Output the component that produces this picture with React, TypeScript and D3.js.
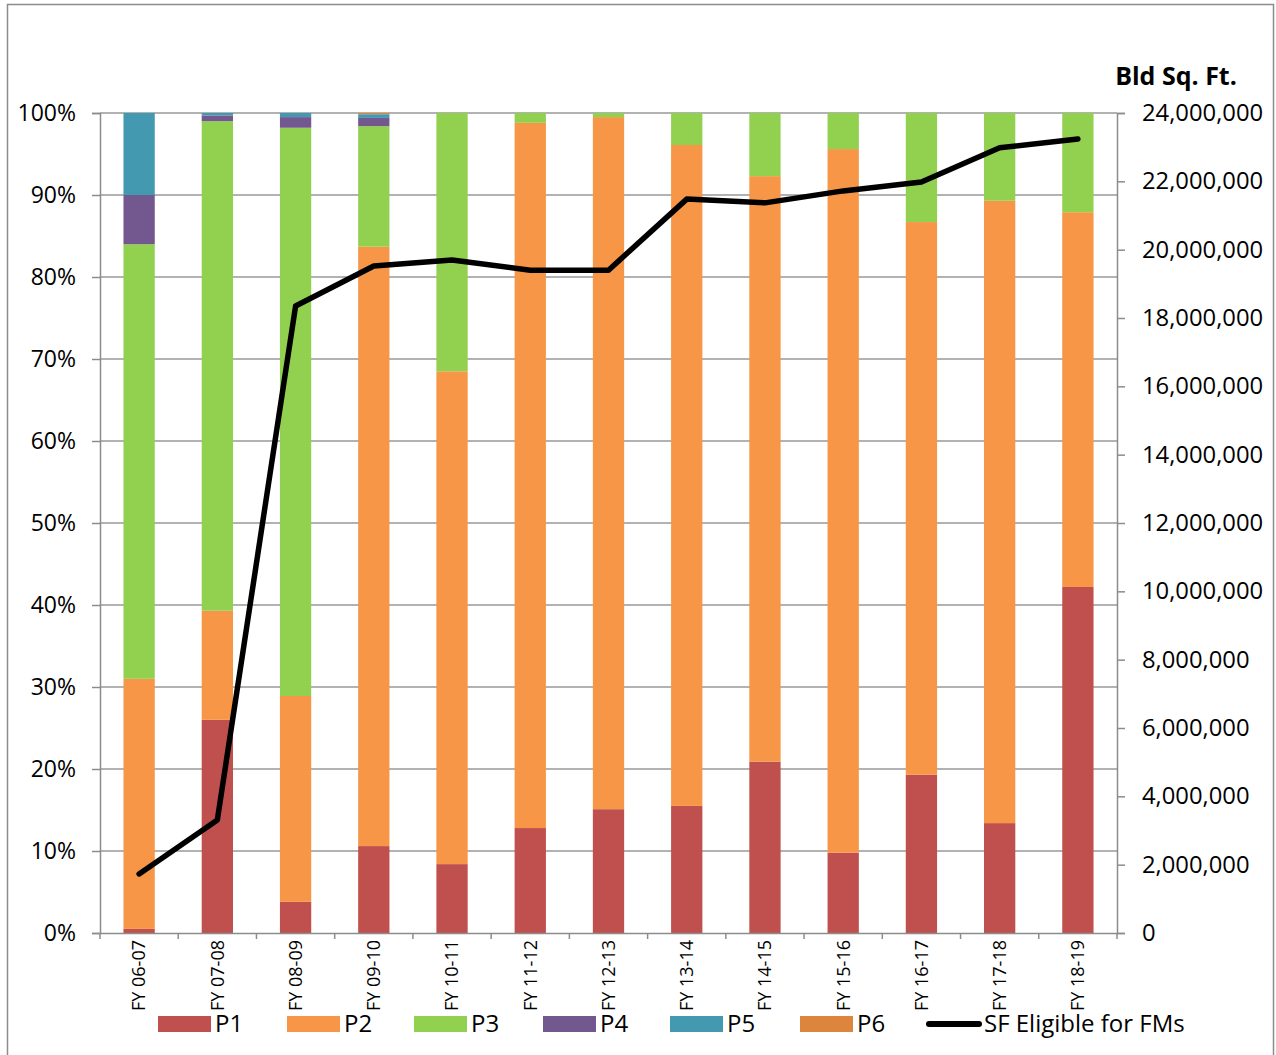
import React, { useEffect, useRef } from 'react';
import * as d3 from 'd3';

const categories = [
  'FY 06-07', 'FY 07-08', 'FY 08-09', 'FY 09-10', 'FY 10-11', 'FY 11-12', 'FY 12-13',
  'FY 13-14', 'FY 14-15', 'FY 15-16', 'FY 16-17', 'FY 17-18', 'FY 18-19',
];

// share of square footage by priority (%)
const p1 = [0.5, 26, 3.8, 10.6, 8.4, 12.8, 15.1, 15.5, 20.9, 9.8, 19.3, 13.4, 42.2];
const p2 = [30.5, 13.3, 25.1, 73.1, 60.1, 86.0, 84.4, 80.6, 71.4, 85.8, 67.4, 75.9, 45.7];
const p3 = [53, 59.7, 69.3, 14.7, 31.5, 1.2, 0.5, 3.9, 7.7, 4.4, 13.3, 10.7, 12.1];
const p4 = [6, 0.7, 1.3, 1.0, 0, 0, 0, 0, 0, 0, 0, 0, 0];
const p5 = [10, 0.3, 0.5, 0.45, 0, 0, 0, 0, 0, 0, 0, 0, 0];
const p6 = [0, 0, 0, 0.15, 0, 0, 0, 0, 0, 0, 0, 0, 0];

// SF Eligible for FMs
const sqft = [
  1730000, 3310000, 18350000, 19520000, 19700000, 19400000, 19400000,
  21480000, 21370000, 21720000, 21980000, 22980000, 23240000,
];

const pctTicks = [0, 10, 20, 30, 40, 50, 60, 70, 80, 90, 100];
const sqftTicks = [0, 2e6, 4e6, 6e6, 8e6, 10e6, 12e6, 14e6, 16e6, 18e6, 20e6, 22e6, 24e6];

const seriesKeys = ['P1', 'P2', 'P3', 'P4', 'P5', 'P6'];
const seriesValues = [p1, p2, p3, p4, p5, p6];
const colors = ['#C0504D', '#F79646', '#92D050', '#72588F', '#4299B0', '#DD843D'];

const font = '"Open Sans", "Noto Sans", sans-serif';

const App = () => {
  const svgRef = useRef<SVGSVGElement>(null);

  useEffect(() => {
    document.body.style.margin = '0';
    const svg = d3.select(svgRef.current);
    svg.selectAll('*').remove();

    const width = 1276;
    const height = 1055;
    const margin = { top: 113, right: 159, bottom: 122, left: 100 };

    const table = categories.map((c, i) => {
      const row: any = { cat: c };
      seriesKeys.forEach((k, j) => (row[k] = seriesValues[j][i]));
      return row;
    });
    const stacked = d3.stack().keys(seriesKeys)(table);

    const x = d3.scaleBand()
      .domain(categories)
      .range([margin.left, width - margin.right])
      .paddingInner(0.6)
      .paddingOuter(0.3);
    const band = d3.scaleBand().domain(categories).range([margin.left, width - margin.right]);
    const y = d3.scaleLinear().domain([0, 100]).range([height - margin.bottom, margin.top]);
    const y2 = d3.scaleLinear().domain([0, 24e6]).range([height - margin.bottom, margin.top]);

    // Outer frame
    svg.append('rect')
      .attr('x', 7.5).attr('y', 4.5)
      .attr('width', 1266).attr('height', 1070)
      .attr('fill', 'white').attr('stroke', '#8c8c8c').attr('stroke-width', 1.5);

    // Gridlines
    svg.append('g')
      .selectAll('line')
      .data(pctTicks.filter(t => t > 0))
      .enter().append('line')
      .attr('x1', margin.left).attr('x2', width - margin.right)
      .attr('y1', d => y(d)).attr('y2', d => y(d))
      .attr('stroke', '#999').attr('stroke-width', 1.5);

    // Stacked bars
    svg.append('g')
      .selectAll('g')
      .data(stacked)
      .enter().append('g')
      .attr('fill', (d, i) => colors[i])
      .selectAll('rect')
      .data(d => d)
      .enter().append('rect')
      .attr('x', d => x(d.data.cat as string)!)
      .attr('width', x.bandwidth())
      .attr('y', d => y(d[1]))
      .attr('height', d => y(d[0]) - y(d[1]));

    // Left axis
    const yAxis = d3.axisLeft(y).tickValues(pctTicks).tickSize(8).tickPadding(16).tickFormat(d => `${d}%`);
    const gl = svg.append('g').attr('transform', `translate(${margin.left},0)`).call(yAxis);

    // Right axis
    const y2Axis = d3.axisRight(y2).tickValues(sqftTicks).tickSize(8).tickPadding(17).tickFormat(d3.format(','));
    const gr = svg.append('g').attr('transform', `translate(${width - margin.right},0)`).call(y2Axis);

    // Bottom axis
    const xAxis = d3.axisBottom(band).tickSize(0).tickFormat(() => '');
    const gb = svg.append('g').attr('transform', `translate(0,${height - margin.bottom})`).call(xAxis);
    gb.selectAll('.tick').remove();
    gb.append('g')
      .selectAll('line')
      .data(d3.range(categories.length + 1))
      .enter().append('line')
      .attr('x1', i => margin.left + i * band.step())
      .attr('x2', i => margin.left + i * band.step())
      .attr('y1', 0).attr('y2', 6)
      .attr('stroke', '#8c8c8c').attr('stroke-width', 1.5);

    [gl, gr, gb].forEach(g => {
      g.selectAll('.domain').attr('stroke', '#8c8c8c').attr('stroke-width', 1.5);
      g.selectAll('.tick line').attr('stroke', '#8c8c8c').attr('stroke-width', 1.5);
      g.selectAll('.tick text').attr('font-family', font).attr('fill', '#000');
    });
    gl.selectAll('.tick text').attr('font-size', 23);
    gr.selectAll('.tick text').attr('font-size', 23.8);

    // Category labels (rotated)
    svg.append('g')
      .selectAll('text')
      .data(categories)
      .enter().append('text')
      .attr('transform', d => `translate(${band(d)! + band.bandwidth() / 2},940) rotate(-90)`)
      .attr('text-anchor', 'end')
      .attr('dy', '0.35em')
      .attr('font-family', font)
      .attr('font-size', 18)
      .text(d => d);

    // Line series
    const line = d3.line<number>()
      .x((d, i) => band(categories[i])! + band.bandwidth() / 2)
      .y(d => y2(d));
    svg.append('path')
      .datum(sqft)
      .attr('d', line)
      .attr('fill', 'none')
      .attr('stroke', '#000')
      .attr('stroke-width', 5.5)
      .attr('stroke-linejoin', 'round')
      .attr('stroke-linecap', 'round');

    // Right axis title
    svg.append('text')
      .attr('x', 1176).attr('y', 85)
      .attr('text-anchor', 'middle')
      .attr('font-family', font)
      .attr('font-size', 25)
      .attr('font-weight', 'bold')
      .text('Bld Sq. Ft.');

    // Legend
    const legendX = [158, 287, 414, 543, 670, 800];
    const lg = svg.append('g');
    seriesKeys.forEach((k, i) => {
      lg.append('rect')
        .attr('x', legendX[i]).attr('y', 1016)
        .attr('width', 53).attr('height', 16)
        .attr('fill', colors[i]);
      lg.append('text')
        .attr('x', legendX[i] + 57).attr('y', 1024)
        .attr('dy', '0.35em')
        .attr('font-family', font).attr('font-size', 24)
        .text(k);
    });
    lg.append('line')
      .attr('x1', 929).attr('x2', 979)
      .attr('y1', 1024).attr('y2', 1024)
      .attr('stroke', '#000').attr('stroke-width', 6).attr('stroke-linecap', 'round');
    lg.append('text')
      .attr('x', 984).attr('y', 1024)
      .attr('dy', '0.35em')
      .attr('font-family', font).attr('font-size', 24)
      .text('SF Eligible for FMs');
  }, []);

  return <svg ref={svgRef} width={1276} height={1055} style={{ display: 'block' }}></svg>;
};

export default App;
